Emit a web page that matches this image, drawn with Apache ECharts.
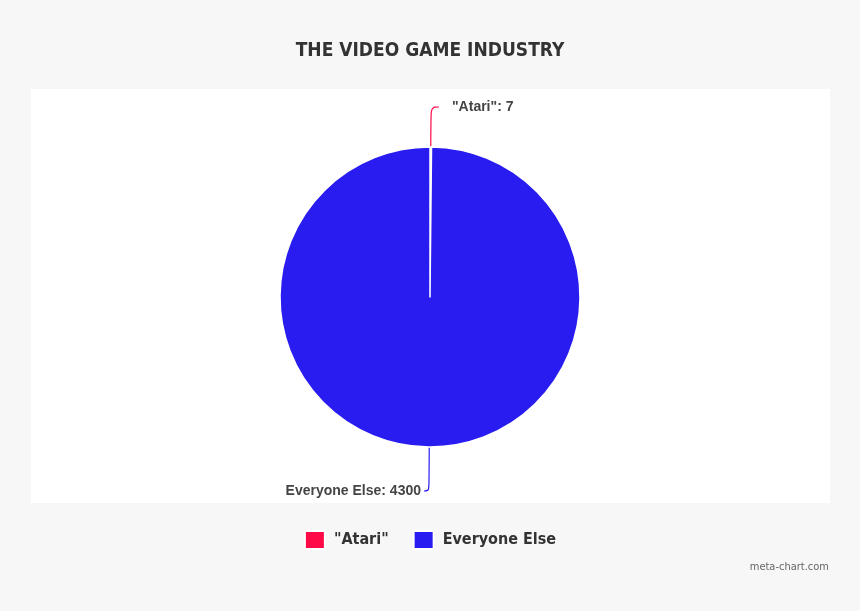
<!DOCTYPE html>
<html>
<head>
<meta charset="utf-8">
<script src="https://cdn.jsdelivr.net/npm/echarts@6/dist/echarts.min.js"></script>
<style>
  html, body { margin: 0; padding: 0; background: #f7f7f7; }
  #chart { width: 860px; height: 611px; }
</style>
</head>
<body>
<div id="chart"></div>
<script>
// data
var names = ['"Atari"', 'Everyone Else'];
var values = [7, 4300];
var colors = ['#ff0a47', '#291cf0'];

var condensed = "'DejaVu Sans Condensed', sans-serif";

var chart = echarts.init(document.getElementById('chart'));

var pieData = [];
for (var i = 0; i < names.length; i++) {
    pieData.push({
        name: names[i],
        value: values[i],
        itemStyle: { color: colors[i] },
        label: { distanceToLabelLine: i === 0 ? 13 : 3 },
        labelLine: i === 0 ? { length: 40, length2: 8 } : { length: 44, length2: 5 }
    });
}

chart.setOption({
    backgroundColor: '#f7f7f7',
    animation: false,
    title: {
        text: 'THE VIDEO GAME INDUSTRY',
        left: 'center',
        top: 37,
        textStyle: {
            fontFamily: condensed,
            fontWeight: 'bold',
            fontSize: 19,
            color: '#333'
        }
    },
    graphic: [
        {
            type: 'rect',
            z: -10,
            shape: { x: 31, y: 89, width: 799, height: 414 },
            style: { fill: '#ffffff' }
        },
        {
            type: 'text',
            right: 31,
            top: 562,
            style: {
                text: 'meta-chart.com',
                fill: '#666',
                font: "11px 'DejaVu Sans Condensed', sans-serif"
            }
        }
    ],
    legend: {
        data: names,
        left: 'center',
        top: 525,
        itemWidth: 20,
        itemHeight: 18,
        itemGap: 24,
        icon: 'rect',
        textStyle: {
            fontFamily: condensed,
            fontWeight: 'bold',
            fontSize: 16,
            color: '#333',
            padding: [0, 0, 0, 4]
        }
    },
    series: [{
        type: 'pie',
        center: [430, 297],
        radius: [0, 150],
        startAngle: 90,
        clockwise: true,
        avoidLabelOverlap: false,
        itemStyle: { borderColor: '#ffffff', borderWidth: 1.5 },
        label: {
            show: true,
            position: 'outside',
            formatter: '{b}: {c}',
            color: '#444',
            fontFamily: "'Liberation Sans', Arial, sans-serif",
            fontWeight: 'bold',
            fontSize: 14
        },
        labelLine: {
            show: true,
            smooth: 0.4,
            lineStyle: { width: 1.2 }
        },
        emphasis: { disabled: true },
        data: pieData
    }]
});
</script>
</body>
</html>
